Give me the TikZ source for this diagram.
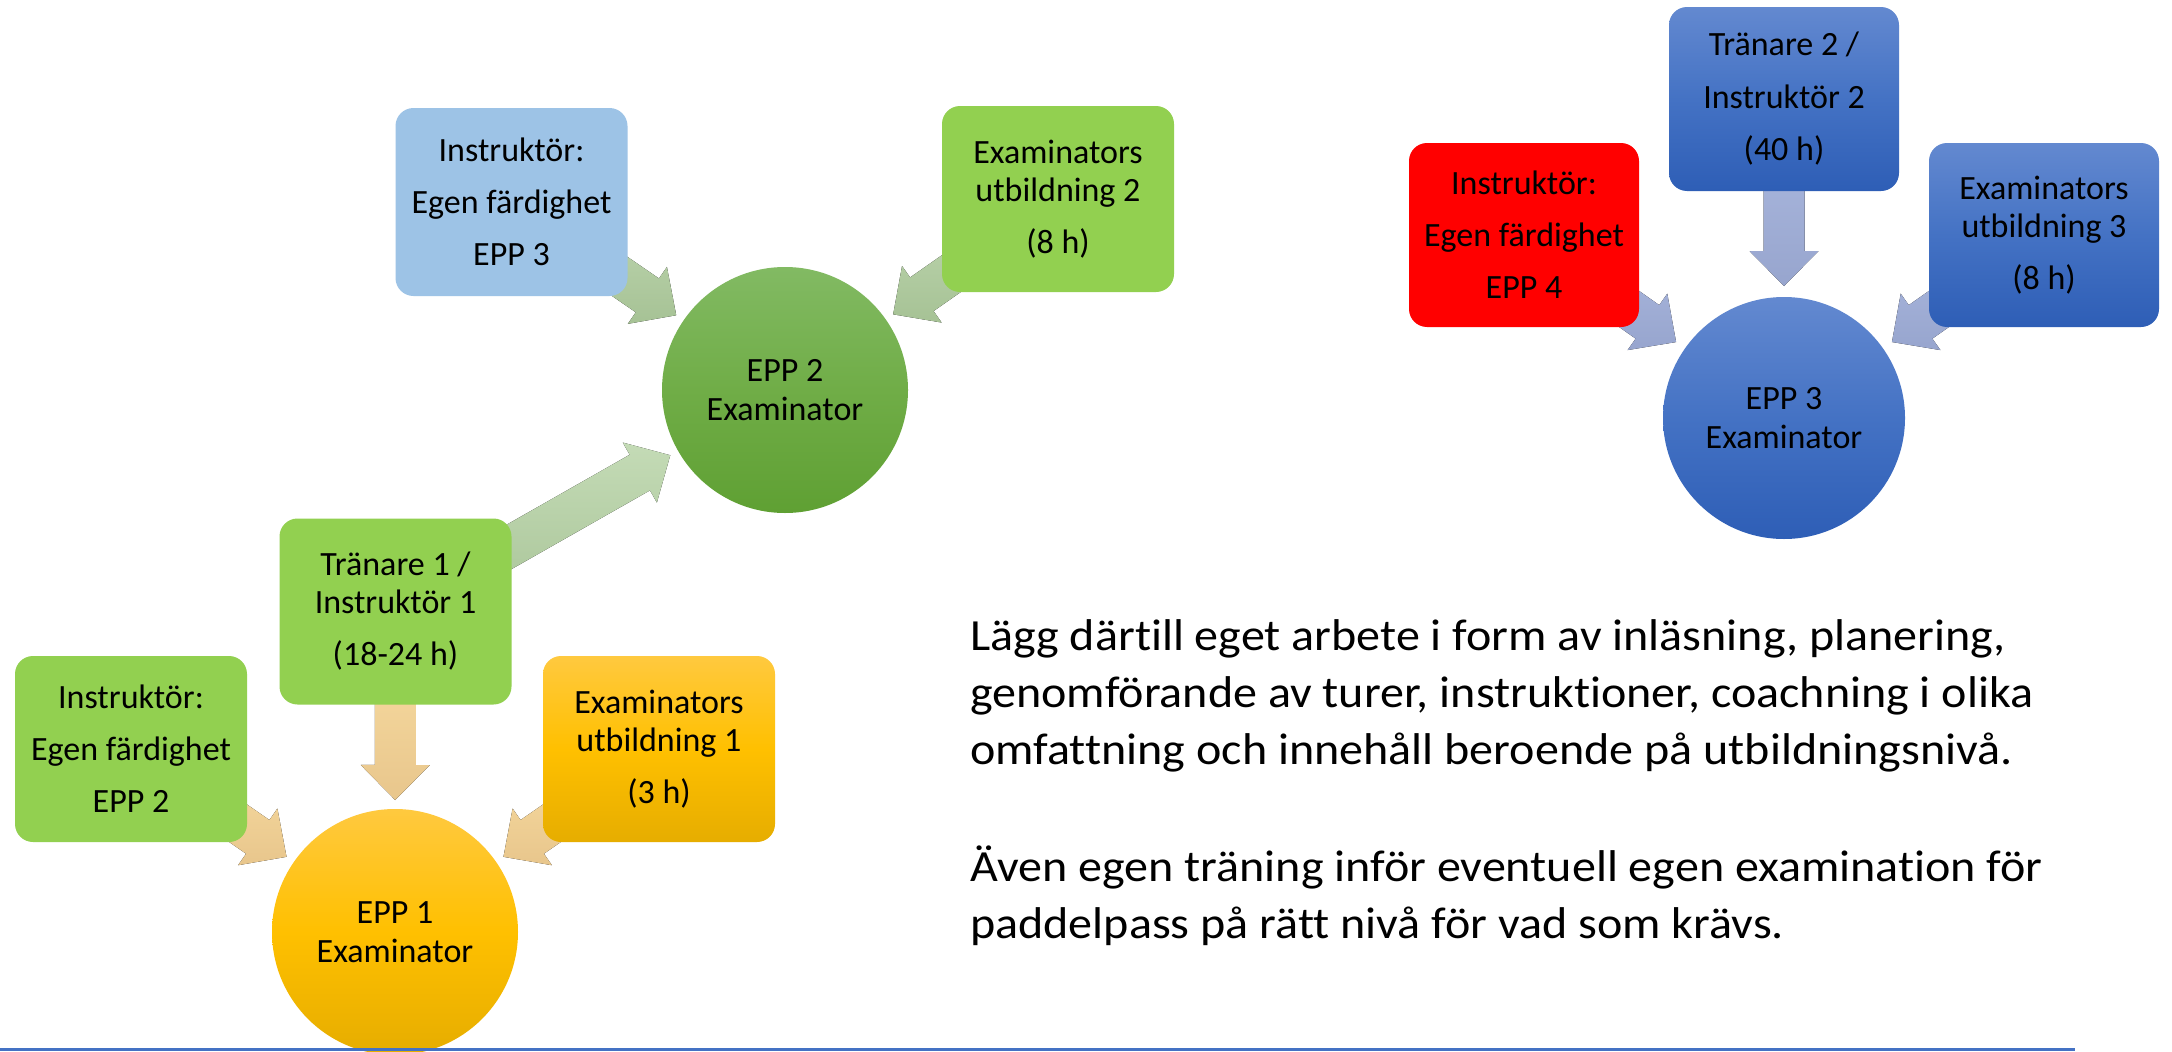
\documentclass[tikz,border=0pt]{standalone}
\usepackage{fontspec}
\setmainfont{Carlito}[Ligatures=NoCommon]
\newfontfamily\parafont{Carlito}[Ligatures=NoCommon, FakeStretch=1.08]
\usetikzlibrary{calc}
\definecolor{pgreen}{HTML}{92D050}
\definecolor{lblue}{HTML}{9DC3E6}
\definecolor{pred}{HTML}{FF0000}
\definecolor{goldT}{HTML}{FFC93F}
\definecolor{goldM}{HTML}{FFC000}
\definecolor{goldB}{HTML}{E6AD00}
\definecolor{grnT}{HTML}{82BA63}
\definecolor{grnM}{HTML}{70AD47}
\definecolor{grnB}{HTML}{5FA033}
\definecolor{bluT}{HTML}{6389D0}
\definecolor{bluM}{HTML}{4472C4}
\definecolor{bluB}{HTML}{2E5EB6}
\definecolor{oarT}{HTML}{FCE1A6}
\definecolor{oarB}{HTML}{E8C68C}
\definecolor{garT}{HTML}{C4DBB6}
\definecolor{garB}{HTML}{A6C295}
\definecolor{barT}{HTML}{B0BDE2}
\definecolor{barB}{HTML}{97A5CE}
\definecolor{rule}{HTML}{4472C4}
\newcommand\barrow[3]{%
  \coordinate (#1-#2-t) at ($(#2.center)!132pt!(#1.center)$);
  \coordinate (#1-#2-h) at ($(#1-#2-t)!35pt!(#1.center)$);
  \fill[#3] ($(#1.center)!20.5pt!90:(#2.center)$)
    -- ($(#1-#2-h)!20.5pt!90:(#1-#2-t)$)
    -- ($(#1-#2-h)!34.5pt!90:(#1-#2-t)$)
    -- (#1-#2-t)
    -- ($(#1-#2-h)!34.5pt!-90:(#1-#2-t)$)
    -- ($(#1-#2-h)!20.5pt!-90:(#1-#2-t)$)
    -- ($(#1.center)!20.5pt!-90:(#2.center)$) -- cycle;}
\tikzset{
  box/.style={rectangle, rounded corners=18pt, minimum width=232pt, minimum height=186pt,
    inner sep=0pt, align=center, font=\fontsize{34}{38}\selectfont, text=black},
  disc/.style={circle, minimum size=246pt, inner sep=0pt, align=center,
    font=\fontsize{34}{39}\selectfont, text=black},
  goldgrad/.style={top color=goldT, bottom color=goldB, middle color=goldM},
  grngrad/.style={top color=grnT, bottom color=grnB, middle color=grnM},
  blugrad/.style={top color=bluT, bottom color=bluB, middle color=bluM},
  oarrow/.style={top color=oarT, bottom color=oarB},
  garrow/.style={top color=garT, bottom color=garB},
  barrowst/.style={top color=barT, bottom color=barB},
  para/.style={anchor=base west, inner sep=0pt, font=\parafont\fontsize{44.5}{52}\selectfont, text=black}
}
\begin{document}
\begin{tikzpicture}[x=1pt, y=-1pt]
\useasboundingbox (0,0) rectangle (2172,1052);
\fill[white] (0,0) rectangle (2172,1052);
% ---------- group A (EPP 1) ----------
\coordinate (iA) at (131,749);
\coordinate (tA) at (395.5,611.5);
\coordinate (eA) at (659,749);
\coordinate (cA) at (395,932);
% ---------- group B (EPP 2) ----------
\coordinate (iB) at (511.5,202);
\coordinate (eB) at (1058,199);
\coordinate (cB) at (785,390);
% ---------- group C (EPP 3) ----------
\coordinate (iC) at (1524,235);
\coordinate (tC) at (1784,99);
\coordinate (eC) at (2044,235);
\coordinate (cC) at (1784,418);
% arrows (drawn beneath the shapes)
\barrow{iA}{cA}{oarrow}
\barrow{tA}{cA}{oarrow}
\barrow{eA}{cA}{oarrow}
\barrow{iB}{cB}{garrow}
\barrow{eB}{cB}{garrow}
\barrow{tA}{cB}{garrow}
\barrow{iC}{cC}{barrowst}
\barrow{tC}{cC}{barrowst}
\barrow{eC}{cC}{barrowst}
% shapes
\node[box, fill=pgreen] (niA) at (iA) {Instruktör:\\[14pt]Egen färdighet\\[14pt]EPP 2};
\node[box, fill=pgreen] (ntA) at (tA) {Tränare 1 /\\Instruktör 1\\[14pt](18-24 h)};
\node[box, goldgrad] (neA) at (eA) {Examinators\\utbildning 1\\[14pt](3 h)};
\node[disc, goldgrad] (ncA) at (cA) {EPP 1\\Examinator};
\node[box, fill=lblue, minimum height=188pt] (niB) at (iB) {Instruktör:\\[14pt]Egen färdighet\\[14pt]EPP 3};
\node[box, fill=pgreen] (neB) at (eB) {Examinators\\utbildning 2\\[14pt](8 h)};
\node[disc, grngrad] (ncB) at (cB) {EPP 2\\Examinator};
\node[box, fill=pred, minimum width=230pt, minimum height=184pt] (niC) at (iC) {Instruktör:\\[14pt]Egen färdighet\\[14pt]EPP 4};
\node[box, blugrad, minimum width=230pt, minimum height=184pt] (ntC) at (tC) {Tränare 2 /\\[15pt]Instruktör 2\\[14pt](40 h)};
\node[box, blugrad, minimum width=230pt, minimum height=184pt] (neC) at (eC) {Examinators\\utbildning 3\\[14pt](8 h)};
\node[disc, blugrad, minimum size=242pt] (ncC) at (cC) {EPP 3\\Examinator};
% paragraph text
\node[para] (p1) at (970,650) {Lägg därtill eget arbete i form av inläsning, planering,};
\node[para] (p2) at (970,707) {genomförande av turer, instruktioner, coachning i olika};
\node[para] (p3) at (970,764) {omfattning och innehåll beroende på utbildningsnivå.};
\node[para] (p4) at (970,881) {Även egen träning inför eventuell egen examination för};
\node[para] (p5) at (970,938) {paddelpass på rätt nivå för vad som krävs.};
% bottom rule
\draw[rule, line width=3pt] (0,1049.5) -- (2075,1049.5);
\end{tikzpicture}
\end{document}
